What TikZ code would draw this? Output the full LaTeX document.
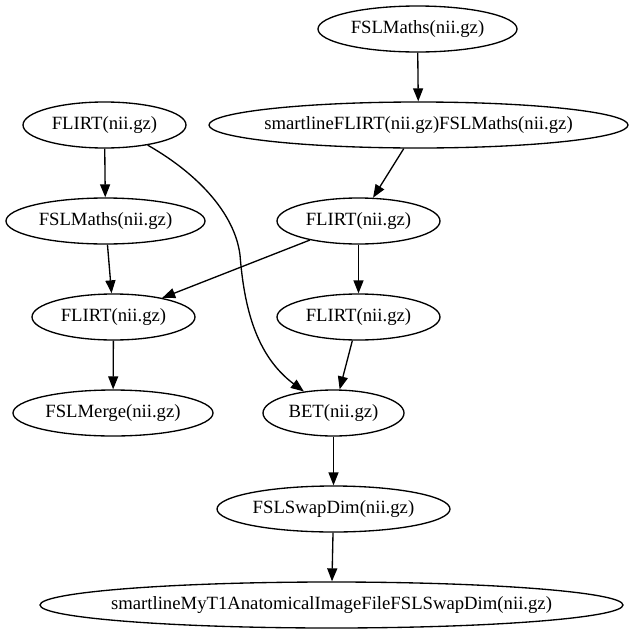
\documentclass[tikz,border=0pt]{standalone}
\usepackage{fontspec}
\setmainfont{Liberation Serif}
\usetikzlibrary{shapes.geometric,arrows.meta}
\newcommand{\lbl}[1]{\makebox[0pt]{#1}}

\begin{document}
\begin{tikzpicture}[x=1pt,y=-1pt]
                        \tikzstyle{proc}=[draw,ellipse,line width=1.33pt,minimum height=46pt,inner sep=0pt,font=\fontsize{18.7}{22}\selectfont]
                        \tikzstyle{flow}=[line width=1.33pt,-{Triangle[length=13pt,width=10pt]}]
                        \useasboundingbox (0,0) rectangle (633,635);
                        \node[proc,minimum width=199pt] (mathsTop) at (417.5,29) {\lbl{FSLMaths(nii.gz)}};
                        \node[proc,minimum width=419pt] (smartFlirt) at (418.5,125) {\lbl{smartlineFLIRT(nii.gz)FSLMaths(nii.gz)}};
                        \node[proc,minimum width=163pt] (flirtA) at (104.5,125) {\lbl{FLIRT(nii.gz)}};
                        \node[proc,minimum width=199pt] (mathsLeft) at (105.5,221) {\lbl{FSLMaths(nii.gz)}};
                        \node[proc,minimum width=163pt] (flirtB) at (358.5,221) {\lbl{FLIRT(nii.gz)}};
                        \node[proc,minimum width=163pt] (flirtC) at (113.5,317) {\lbl{FLIRT(nii.gz)}};
                        \node[proc,minimum width=163pt] (flirtD) at (358.5,317) {\lbl{FLIRT(nii.gz)}};
                        \node[proc,minimum width=200pt] (merge) at (113,413) {\lbl{FSLMerge(nii.gz)}};
                        \node[proc,minimum width=141pt] (bet) at (333.5,413) {\lbl{BET(nii.gz)}};
                        \node[proc,minimum width=233pt] (swap) at (333.5,509) {\lbl{FSLSwapDim(nii.gz)}};
                        \node[proc,minimum width=583pt] (smartSwap) at (331.5,605) {\lbl{smartlineMyT1AnatomicalImageFileFSLSwapDim(nii.gz)}};
                        \draw[flow] (mathsTop) -- (smartFlirt);
                        \draw[flow] (smartFlirt) -- (flirtB);
                        \draw[flow] (flirtA) -- (mathsLeft);
                        \draw[flow] (flirtA.-25) .. controls (200,175) and (235,215) .. (240,255)
                            .. controls (244,305) and (255,355) .. (bet.144);
                        \draw[flow] (mathsLeft) -- (flirtC);
                        \draw[flow] (flirtB) -- (flirtC);
                        \draw[flow] (flirtB) -- (flirtD);
                        \draw[flow] (flirtD) -- (bet);
                        \draw[flow] (flirtC) -- (merge);
                        \draw[flow] (bet) -- (swap);
                        \draw[flow] (swap) -- (smartSwap);
                    \end{tikzpicture}
\end{document}
